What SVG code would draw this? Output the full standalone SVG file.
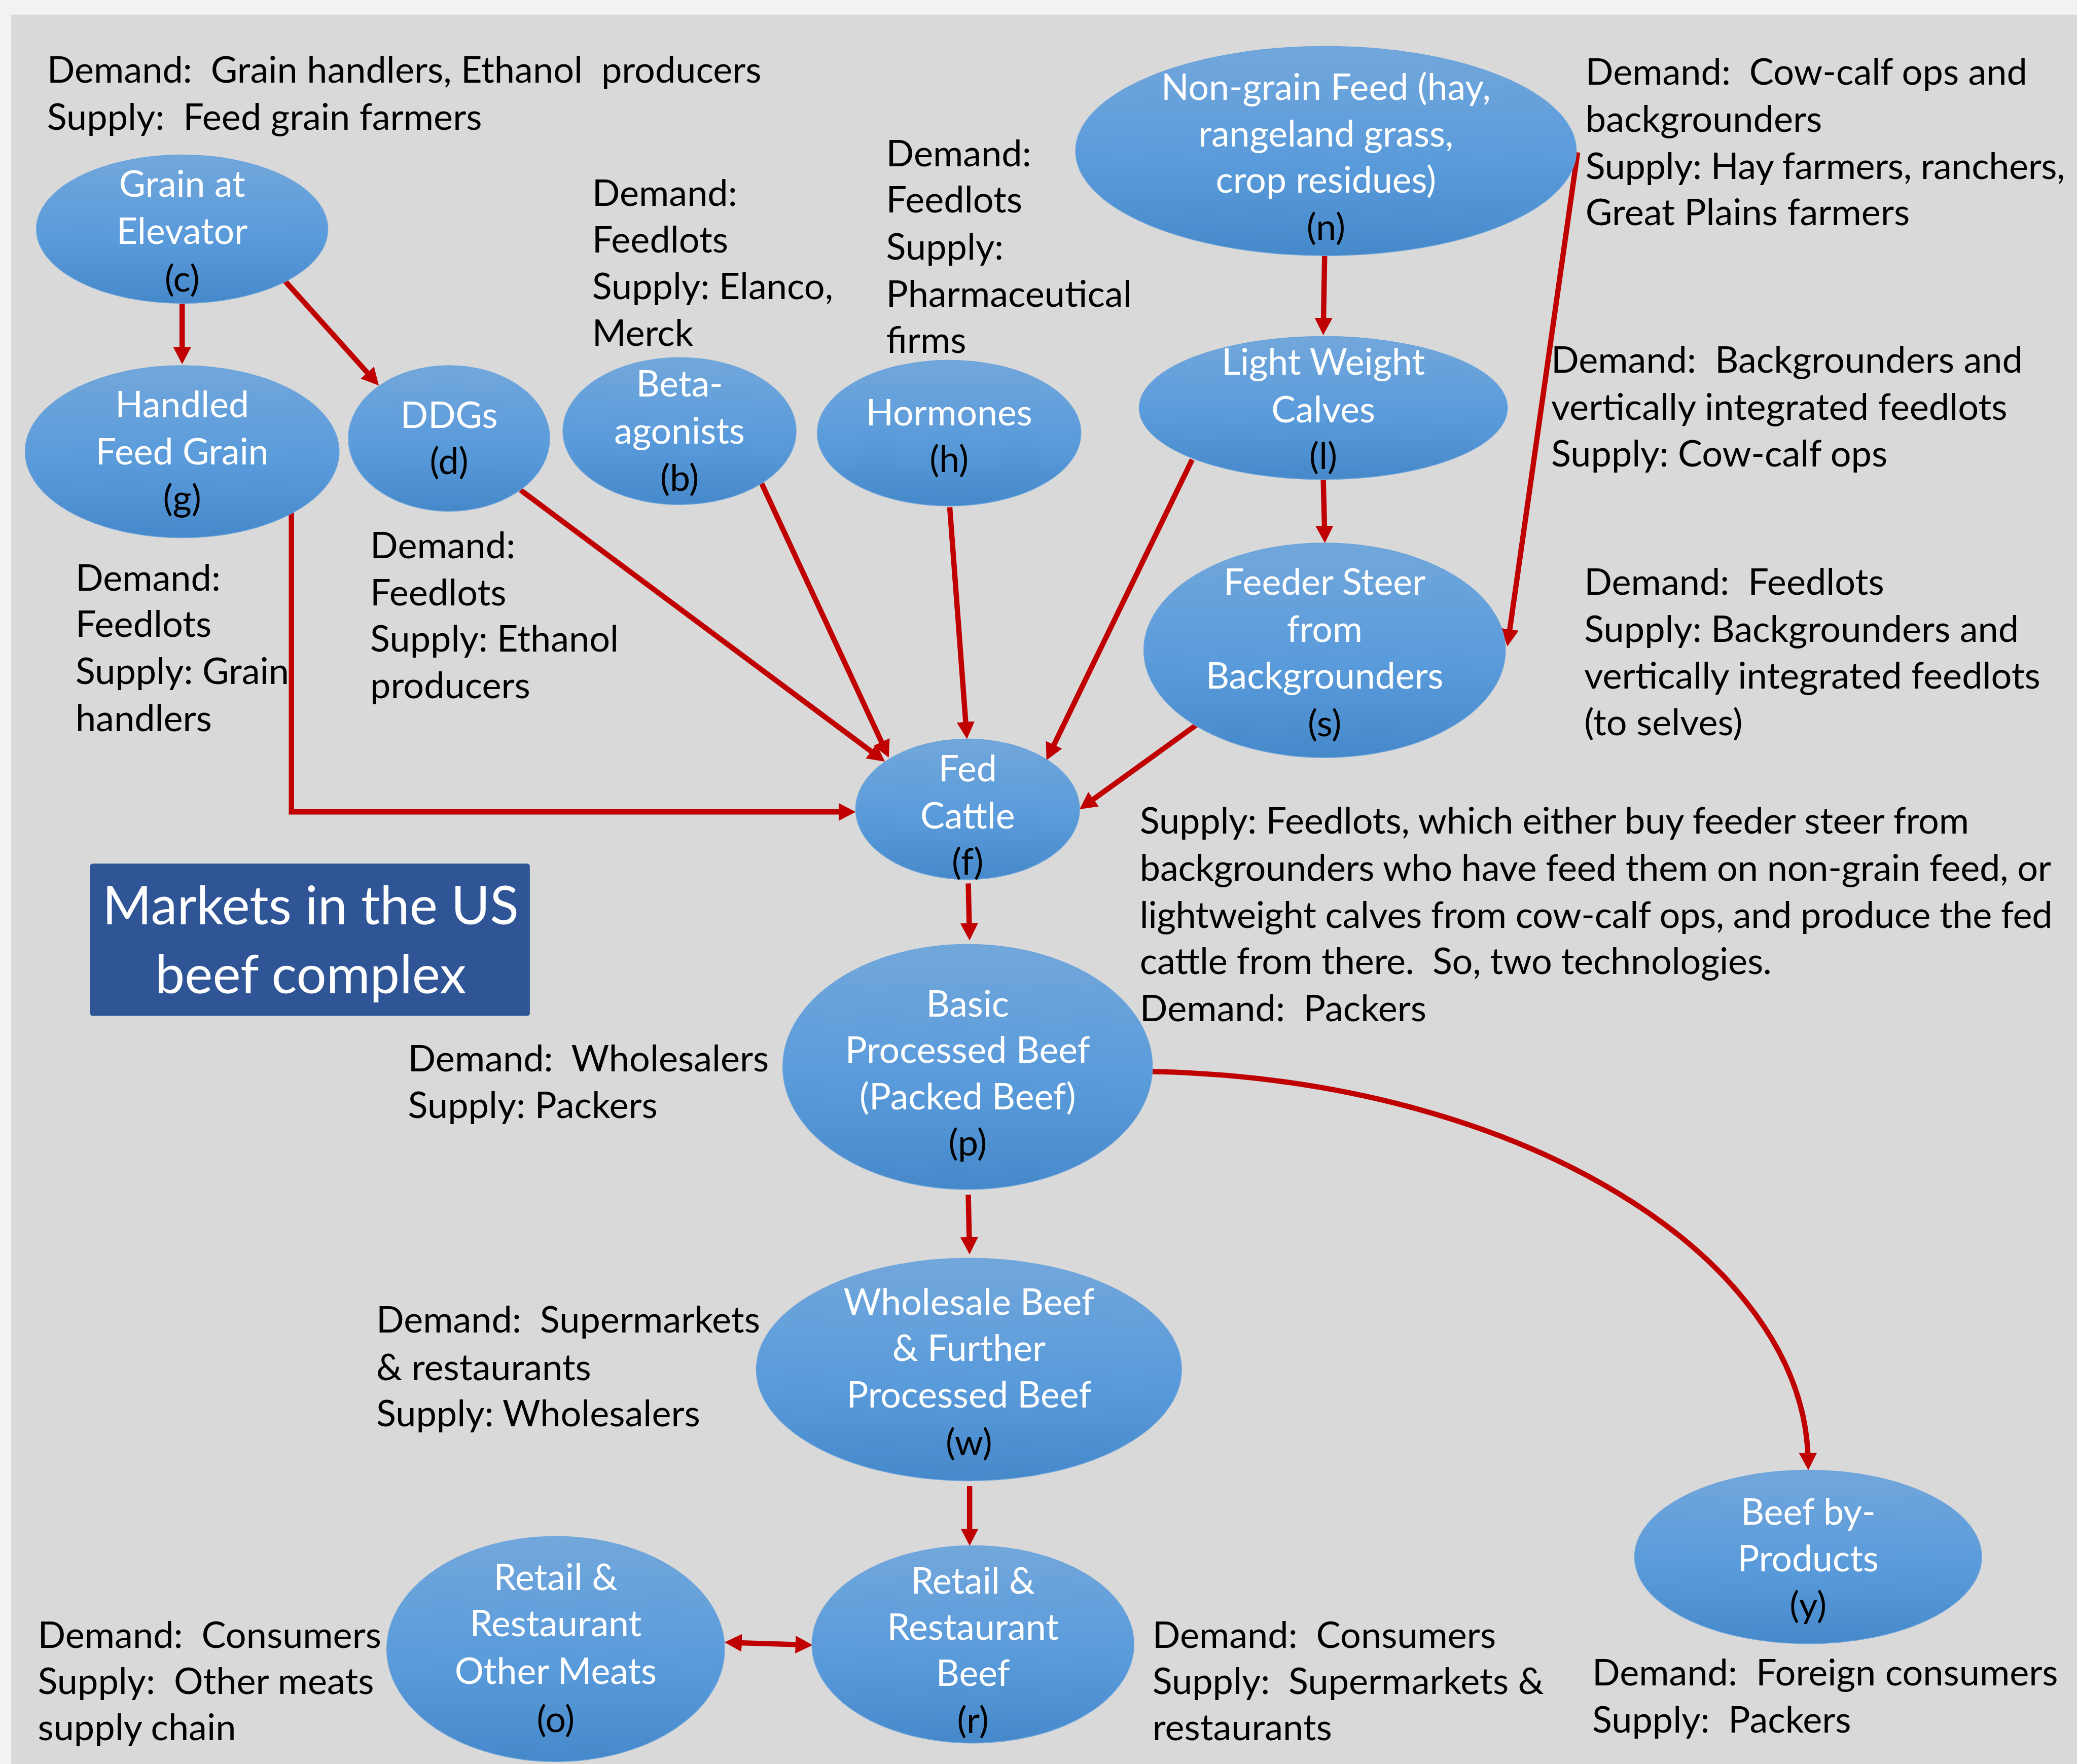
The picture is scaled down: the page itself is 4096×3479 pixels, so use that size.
<svg xmlns="http://www.w3.org/2000/svg" width="4096" height="3479" viewBox="0 0 4096 3479">
<defs>
<style>
.ann{font-family:Lato,"Liberation Sans",sans-serif;font-size:27.6px;fill:#000;white-space:pre}
.nt{font-family:Lato,"Liberation Sans",sans-serif;font-size:27.4px;fill:#fff;text-anchor:middle}
.nl{fill:#000}
.node{fill:url(#bg);stroke:#6aa3db;stroke-width:0.6}
.conn{stroke:#c00000;stroke-width:4;fill:none}
.title{font-family:Lato,"Liberation Sans",sans-serif;font-size:40px;fill:#fff;text-anchor:middle}
</style>
<linearGradient id="bg" x1="0" y1="0" x2="0" y2="1">
<stop offset="0" stop-color="#72a7db"/>
<stop offset="0.55" stop-color="#5a9bdb"/>
<stop offset="1" stop-color="#4689ca"/>
</linearGradient>
<marker id="ah" markerUnits="userSpaceOnUse" markerWidth="13" markerHeight="13.5" viewBox="0 0 13 13.5" refX="5" refY="6.75" orient="auto-start-reverse">
<path d="M0,0 L13,6.75 L0,13.5 z" fill="#c00000"/>
</marker>
</defs>
<rect x="0" y="0" width="4096" height="3479" fill="#f2f2f2"/>
<g transform="scale(2.61224)">
<rect x="8.5" y="11" width="1570" height="1330" fill="#d9d9d9"/>

<g id="connectors">
<path class="conn" d="M137.5,229 L137.5,267" marker-end="url(#ah)"/>
<path class="conn" d="M215,212 L280.65,285.05" marker-end="url(#ah)"/>
<path class="conn" d="M220,386 V613 H638" marker-end="url(#ah)"/>
<path class="conn" d="M393,370 L661.6,570.2" marker-end="url(#ah)"/>
<path class="conn" d="M575,365 L667.6,564.7" marker-end="url(#ah)"/>
<path class="conn" d="M717,383 L729.4,550" marker-end="url(#ah)"/>
<path class="conn" d="M900,347 L793.5,566.8" marker-end="url(#ah)"/>
<path class="conn" d="M905,546 L821.5,606.3" marker-end="url(#ah)"/>
<path class="conn" d="M1000,193 L999.1,245" marker-end="url(#ah)"/>
<path class="conn" d="M1191,115 L1139.1,480.1" marker-end="url(#ah)"/>
<path class="conn" d="M999,362 L1000,402" marker-end="url(#ah)"/>
<path class="conn" d="M731,667 L731.8,702" marker-end="url(#ah)"/>
<path class="conn" d="M731,902 L731.8,939" marker-end="url(#ah)"/>
<path class="conn" d="M732,1122 L732,1159" marker-end="url(#ah)"/>
<path class="conn" d="M870,809 C1150,815 1362,950 1365,1102" marker-end="url(#ah)"/>
<path class="conn" d="M555,1240.2 L605.5,1241.8" marker-start="url(#ah)" marker-end="url(#ah)"/>
</g>

<g id="node-c">
<ellipse class="node" cx="137.5" cy="173" rx="110" ry="56"/>
<text class="nt" x="137.5" y="148.5">Grain at</text>
<text class="nt" x="137.5" y="184">Elevator</text>
<text class="nt nl" x="137.5" y="220">(c)</text>
</g>
<g id="node-g">
<ellipse class="node" cx="137.5" cy="341" rx="118.5" ry="65"/>
<text class="nt" x="137.5" y="315">Handled</text>
<text class="nt" x="137.5" y="350.5">Feed Grain</text>
<text class="nt nl" x="137.5" y="386">(g)</text>
</g>
<g id="node-d">
<ellipse class="node" cx="339" cy="331" rx="76" ry="55"/>
<text class="nt" x="339" y="323">DDGs</text>
<text class="nt nl" x="339" y="358">(d)</text>
</g>
<g id="node-b">
<ellipse class="node" cx="513" cy="325.5" rx="88" ry="55.5"/>
<text class="nt" x="513" y="299.5">Beta-</text>
<text class="nt" x="513" y="335">agonists</text>
<text class="nt nl" x="513" y="370.5">(b)</text>
</g>
<g id="node-h">
<ellipse class="node" cx="716.5" cy="327" rx="99.5" ry="55"/>
<text class="nt" x="716.5" y="321">Hormones</text>
<text class="nt nl" x="716.5" y="356.5">(h)</text>
</g>
<g id="node-n">
<ellipse class="node" cx="1001" cy="114" rx="189" ry="79"/>
<text class="nt" x="1001" y="75.5">Non-grain Feed (hay,</text>
<text class="nt" x="1001" y="110.5">rangeland grass,</text>
<text class="nt" x="1001" y="145.5">crop residues)</text>
<text class="nt nl" x="1001" y="181">(n)</text>
</g>
<g id="node-l">
<ellipse class="node" cx="999" cy="308" rx="139" ry="54"/>
<text class="nt" x="999" y="283">Light Weight</text>
<text class="nt" x="999" y="319">Calves</text>
<text class="nt nl" x="999" y="354">(l)</text>
</g>
<g id="node-s">
<ellipse class="node" cx="1000" cy="491" rx="136.5" ry="81"/>
<text class="nt" x="1000" y="449">Feeder Steer</text>
<text class="nt" x="1000" y="484.5">from</text>
<text class="nt" x="1000" y="520">Backgrounders</text>
<text class="nt nl" x="1000" y="556">(s)</text>
</g>
<g id="node-f">
<ellipse class="node" cx="730.5" cy="611" rx="84.5" ry="53"/>
<text class="nt" x="730.5" y="590">Fed</text>
<text class="nt" x="730.5" y="625.5">Cattle</text>
<text class="nt nl" x="730.5" y="660.5">(f)</text>
</g>
<g id="node-p">
<ellipse class="node" cx="730.5" cy="805.5" rx="139.5" ry="92.5"/>
<text class="nt" x="730.5" y="767.5">Basic</text>
<text class="nt" x="730.5" y="802.5">Processed Beef</text>
<text class="nt" x="730.5" y="837.5">(Packed Beef)</text>
<text class="nt nl" x="730.5" y="872.5">(p)</text>
</g>
<g id="node-w">
<ellipse class="node" cx="731.5" cy="1034" rx="160.5" ry="84"/>
<text class="nt" x="731.5" y="992.5">Wholesale Beef</text>
<text class="nt" x="731.5" y="1027.5">&amp; Further</text>
<text class="nt" x="731.5" y="1062.5">Processed Beef</text>
<text class="nt nl" x="731.5" y="1098.5">(w)</text>
</g>
<g id="node-o">
<ellipse class="node" cx="419.5" cy="1245" rx="127.5" ry="85"/>
<text class="nt" x="419.5" y="1200.5">Retail &amp;</text>
<text class="nt" x="419.5" y="1235.5">Restaurant</text>
<text class="nt" x="419.5" y="1271.5">Other Meats</text>
<text class="nt nl" x="419.5" y="1307.5">(o)</text>
</g>
<g id="node-r">
<ellipse class="node" cx="734.5" cy="1241.5" rx="121.5" ry="74.5"/>
<text class="nt" x="734.5" y="1203">Retail &amp;</text>
<text class="nt" x="734.5" y="1238">Restaurant</text>
<text class="nt" x="734.5" y="1273">Beef</text>
<text class="nt nl" x="734.5" y="1308.5">(r)</text>
</g>
<g id="node-y">
<ellipse class="node" cx="1365" cy="1175.5" rx="131" ry="65.5"/>
<text class="nt" x="1365" y="1151">Beef by-</text>
<text class="nt" x="1365" y="1186.5">Products</text>
<text class="nt nl" x="1365" y="1221.5">(y)</text>
</g>

<g id="title">
<rect x="68" y="652" width="332" height="115" rx="2" fill="#2f5597"/>
<text class="title" x="234.5" y="698">Markets in the US</text>
<text class="title" x="234.5" y="750">beef complex</text>
</g>

<g id="annotations">
<text class="ann" x="35.5" y="62.5">Demand:  Grain handlers, Ethanol  producers</text>
<text class="ann" x="35.5" y="98">Supply:  Feed grain farmers</text>

<text class="ann" x="447" y="155.5">Demand:</text>
<text class="ann" x="447" y="190.5">Feedlots</text>
<text class="ann" x="447" y="226">Supply: Elanco,</text>
<text class="ann" x="447" y="261">Merck</text>

<text class="ann" x="669" y="125.5">Demand:</text>
<text class="ann" x="669" y="160.5">Feedlots</text>
<text class="ann" x="669" y="196">Supply:</text>
<text class="ann" x="669" y="231.5">Pharmaceutical</text>
<text class="ann" x="669" y="266.5">firms</text>

<text class="ann" x="1197" y="64">Demand:  Cow-calf ops and</text>
<text class="ann" x="1197" y="99.5">backgrounders</text>
<text class="ann" x="1197" y="135" textLength="362">Supply: Hay farmers, ranchers,</text>
<text class="ann" x="1197" y="170">Great Plains farmers</text>

<text class="ann" x="1171" y="281.5">Demand:  Backgrounders and</text>
<text class="ann" x="1171" y="317">vertically integrated feedlots</text>
<text class="ann" x="1171" y="352">Supply: Cow-calf ops</text>

<text class="ann" x="1196" y="449">Demand:  Feedlots</text>
<text class="ann" x="1196" y="484.5">Supply: Backgrounders and</text>
<text class="ann" x="1196" y="520">vertically integrated feedlots</text>
<text class="ann" x="1196" y="555">(to selves)</text>

<text class="ann" x="57" y="446">Demand:</text>
<text class="ann" x="57" y="481">Feedlots</text>
<text class="ann" x="57" y="516.5">Supply: Grain</text>
<text class="ann" x="57" y="552">handlers</text>

<text class="ann" x="279.5" y="421.5">Demand:</text>
<text class="ann" x="279.5" y="457">Feedlots</text>
<text class="ann" x="279.5" y="492">Supply: Ethanol</text>
<text class="ann" x="279.5" y="527">producers</text>

<text class="ann" x="860.5" y="629.5" textLength="626">Supply: Feedlots, which either buy feeder steer from</text>
<text class="ann" x="860.5" y="665" textLength="688">backgrounders who have feed them on non-grain feed, or</text>
<text class="ann" x="860.5" y="700.5" textLength="689">lightweight calves from cow-calf ops, and produce the fed</text>
<text class="ann" x="860.5" y="735.5" textLength="477">cattle from there.  So, two technologies.</text>
<text class="ann" x="860.5" y="771">Demand:  Packers</text>

<text class="ann" x="308" y="809">Demand:  Wholesalers</text>
<text class="ann" x="308" y="844">Supply: Packers</text>

<text class="ann" x="284" y="1006">Demand:  Supermarkets</text>
<text class="ann" x="284" y="1042">&amp; restaurants</text>
<text class="ann" x="284" y="1077">Supply: Wholesalers</text>

<text class="ann" x="28.5" y="1244">Demand:  Consumers</text>
<text class="ann" x="28.5" y="1279">Supply:  Other meats</text>
<text class="ann" x="28.5" y="1314">supply chain</text>

<text class="ann" x="870" y="1244">Demand:  Consumers</text>
<text class="ann" x="870" y="1279">Supply:  Supermarkets &amp;</text>
<text class="ann" x="870" y="1314">restaurants</text>

<text class="ann" x="1202" y="1272.5">Demand:  Foreign consumers</text>
<text class="ann" x="1202" y="1308">Supply:  Packers</text>
</g>
</g>
</svg>
